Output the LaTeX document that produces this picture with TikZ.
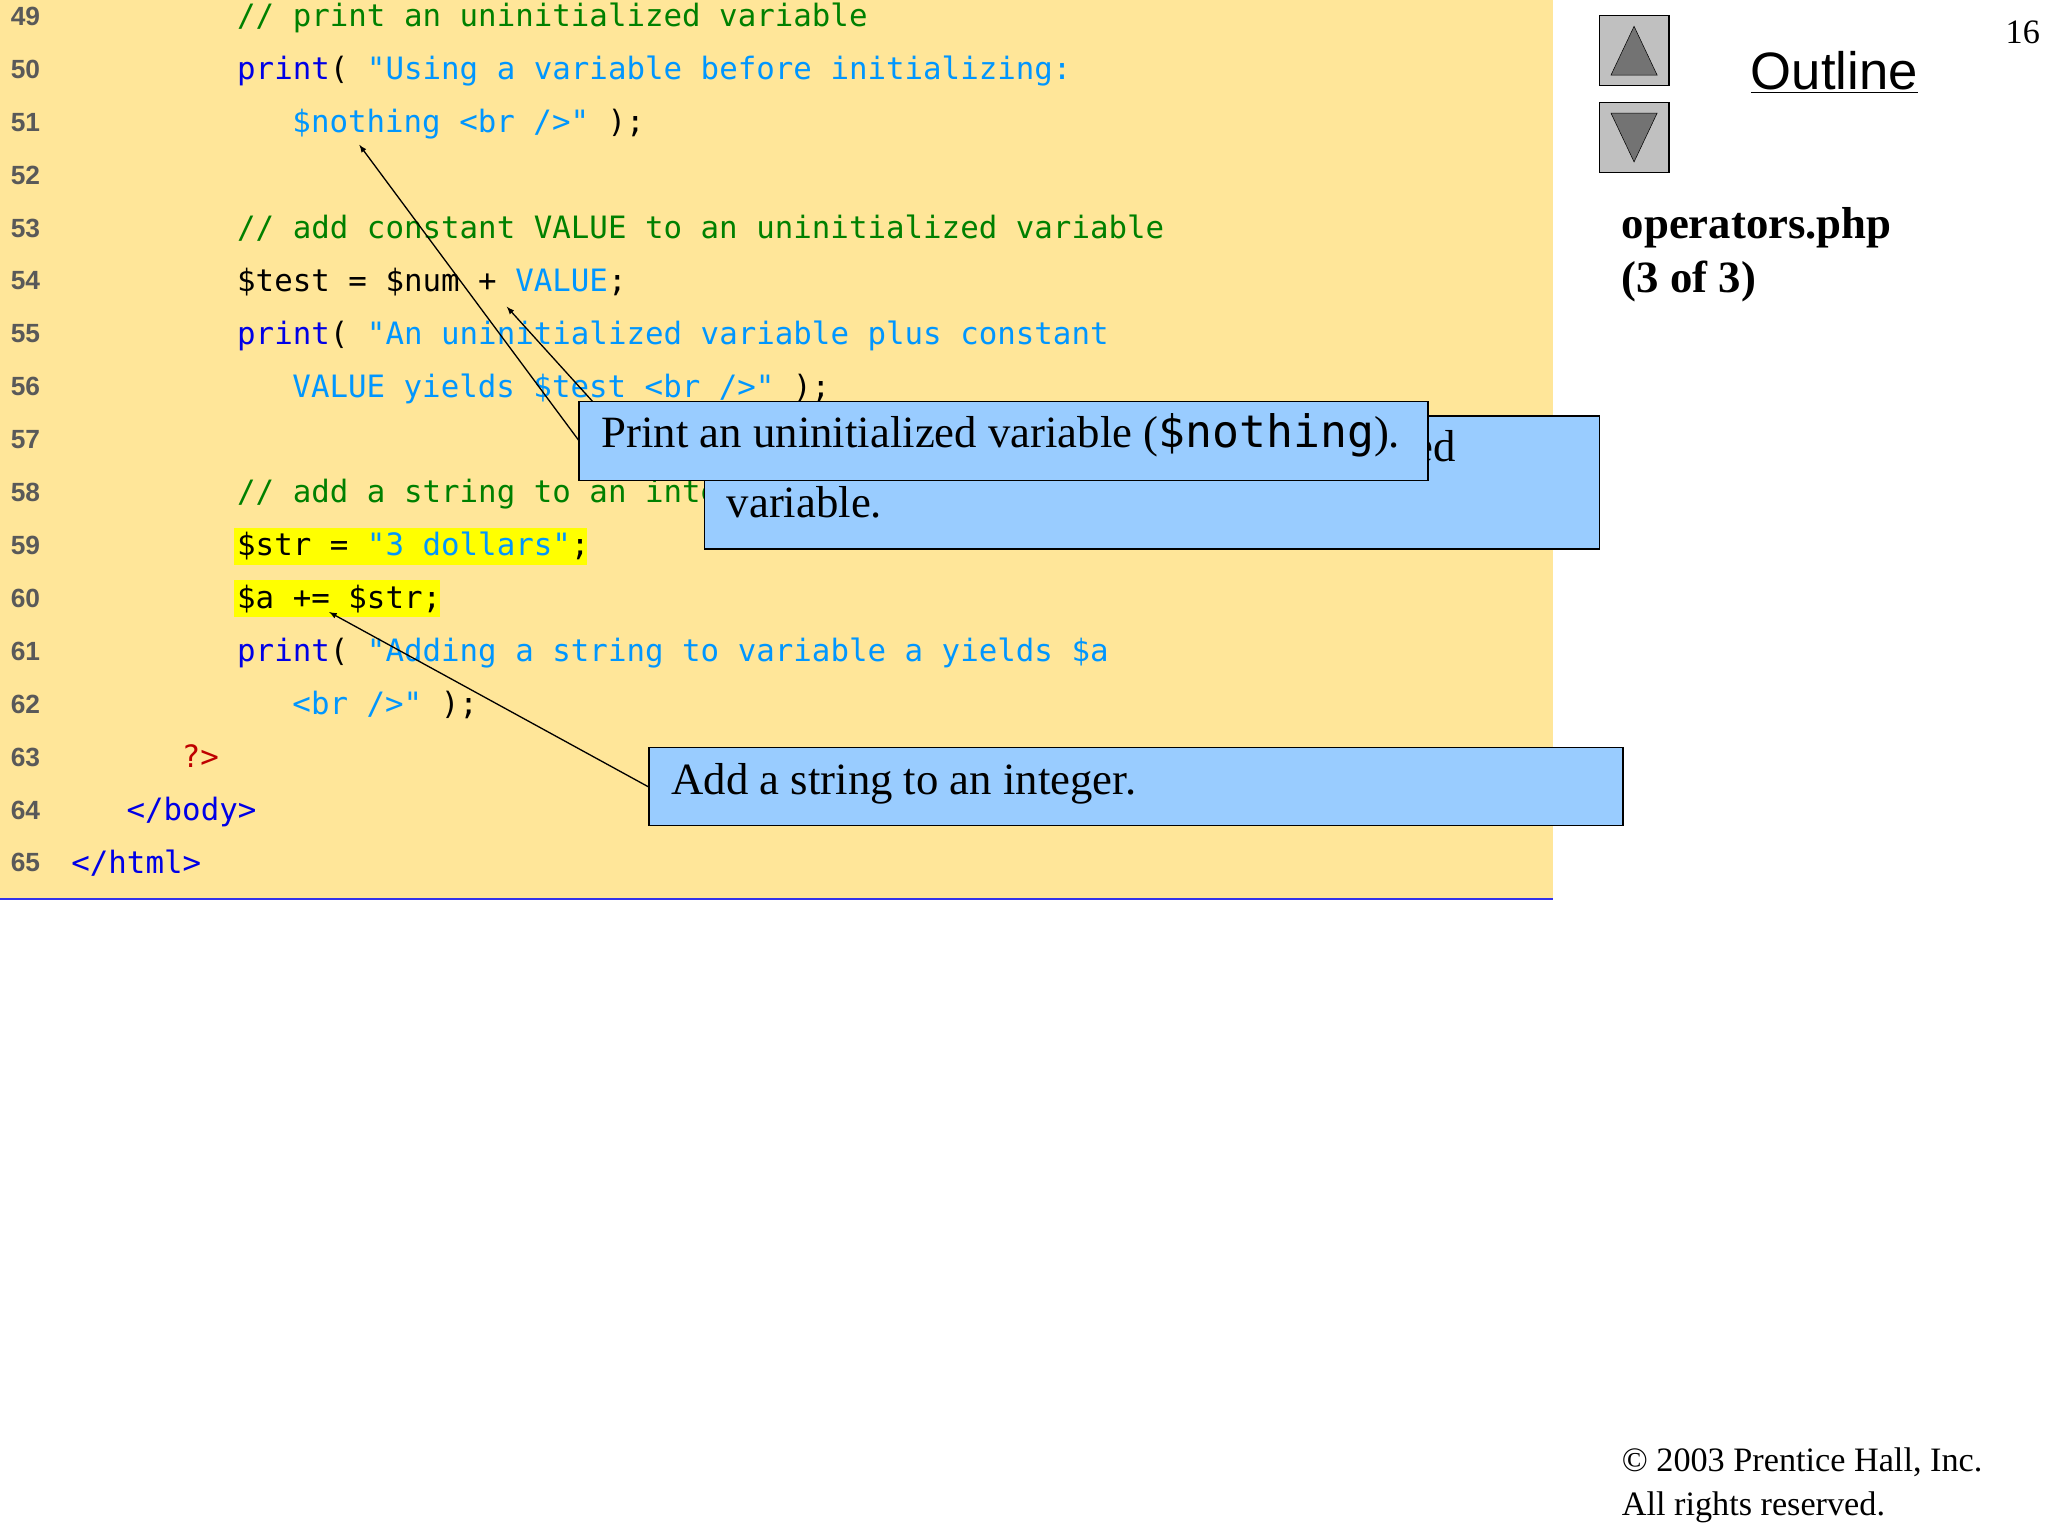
\documentclass[tikz,border=0pt]{standalone}
\usepackage{fontspec}
\setmainfont{Liberation Serif}
\setsansfont{Liberation Sans}
\setmonofont{DejaVu Sans Mono}
\definecolor{bg}{RGB}{255,230,153}
\definecolor{cgreen}{RGB}{0,128,0}
\definecolor{kblue}{RGB}{0,0,230}
\definecolor{sblue}{RGB}{0,150,255}
\definecolor{dred}{RGB}{190,0,0}
\definecolor{callout}{RGB}{153,204,255}
\definecolor{hl}{RGB}{255,255,0}
\definecolor{btn}{RGB}{192,192,192}
\tikzset{
 code/.style={anchor=mid west,inner sep=0pt,font=\fontsize{23.4}{26}\ttfamily},
 lnum/.style={anchor=mid west,inner sep=0pt,font=\fontsize{20}{24}\sffamily\bfseries,text=black!65},
 cbox/.style={draw=black,line width=1pt,fill=callout},
 ctext/.style={anchor=mid west,inner sep=0pt,font=\fontsize{34}{40}\selectfont},
 arr/.style={-latex,line width=1pt}
}
\newcommand{\K}[1]{\textcolor{kblue}{#1}}
\newcommand{\Sx}[1]{\textcolor{sblue}{#1}}
\newcommand{\G}[1]{\textcolor{cgreen}{#1}}
\begin{document}
\begin{tikzpicture}[x=1pt,y=-1pt]
\useasboundingbox (0,0) rectangle (1556,1167);
\fill[white] (0,0) rectangle (1556,1167);
\fill[bg] (0,0) rectangle (1180,683);
\draw[kblue!80,line width=1.5pt] (0,683) -- (1180,683);
\fill[hl] (178,401) rectangle (446,429);
\fill[hl] (178,441) rectangle (334,469);
\foreach \n [count=\i from 0] in {49,...,65} {
  \node[lnum] (ln\n) at (8,{17+40.2*\i}) {\n};
}
\begin{scope}[yshift=-5pt]
\node[code] (c49) at (180,13) {\G{// print an uninitialized variable}};
\node[code] (c50) at (180,53.2) {\K{print}( \Sx{"Using a variable before initializing:}};
\node[code] (c51) at (222,93.4) {\Sx{\$nothing <br />"} );};
\node[code] (c53) at (180,173.8) {\G{// add constant VALUE to an uninitialized variable}};
\node[code] (c54) at (180,214) {\$test = \$num + \Sx{VALUE};};
\node[code] (c55) at (180,254.2) {\K{print}( \Sx{"An uninitialized variable plus constant}};
\node[code] (c56) at (222,294.4) {\Sx{VALUE yields \$test <br />"} );};
\node[code] (c58) at (180,374.8) {\G{// add a string to an integer}};
\node[code] (c59) at (180,415) {\$str = \Sx{"3 dollars"};};
\node[code] (c60) at (180,455.2) {\$a += \$str;};
\node[code] (c61) at (180,495.4) {\K{print}( \Sx{"Adding a string to variable a yields \$a}};
\node[code] (c62) at (222,535.6) {\Sx{<br />"} );};
\node[code] (c63) at (138,575.8) {\textcolor{dred}{?>}};
\node[code] (c64) at (96,616) {\K{</body>}};
\node[code] (c65) at (54,656.2) {\K{</html>}};
\end{scope}
% arrows
\coordinate (t1) at (273,110);
\coordinate (t2) at (385,233);
\coordinate (t3) at (250,465);
\coordinate (s2) at (462,318);
\draw[arr] (s2) -- (t2);
% callout boxes
\draw[cbox] (535,316) rectangle (1215,417);
\node[ctext] (b2a) at (552,348) {Add constant VALUE to an uninitialized};
\node[ctext] (b2b) at (552,391) {variable.};
\draw[cbox] (440,305) rectangle (1085,365);
\node[ctext] (b1) at (457,338) {Print an uninitialized variable (\texttt{\$nothing}).};
\coordinate (s1) at (440,335);
\draw[arr] (s1) -- (t1);
\draw[cbox] (493,568) rectangle (1233,627);
\node[ctext] (b3) at (510,601) {Add a string to an integer.};
\coordinate (s3) at (493,598);
\draw[arr] (s3) -- (t3);
% navigation
\draw[line width=1pt,fill=btn] (1215,12) rectangle (1268,65);
\draw[fill=black!55] (1241.5,20) -- (1224,57) -- (1259,57) -- cycle;
\draw[line width=1pt,fill=btn] (1215,78) rectangle (1268,131);
\draw[fill=black!55] (1241.5,123) -- (1224,86) -- (1259,86) -- cycle;
\node[anchor=mid west,inner sep=0pt,font=\fontsize{40}{48}\sffamily] (ol) at (1330,66) {\underline{Outline}};
\node[anchor=mid east,inner sep=0pt,font=\fontsize{26}{30}\selectfont] (pg) at (1550,31) {16};
\node[anchor=mid west,inner sep=0pt,font=\fontsize{34}{40}\bfseries] (f1) at (1232,179) {operators.php};
\node[anchor=mid west,inner sep=0pt,font=\fontsize{34}{40}\bfseries] (f2) at (1232,220) {(3 of 3)};
\node[anchor=mid west,inner sep=0pt,font=\fontsize{26}{30}\selectfont] (cp1) at (1232,1116) {\textcopyright{} 2003 Prentice Hall, Inc.};
\node[anchor=mid west,inner sep=0pt,font=\fontsize{26}{30}\selectfont] (cp2) at (1232,1149) {All rights reserved.};
\end{tikzpicture}
\end{document}
